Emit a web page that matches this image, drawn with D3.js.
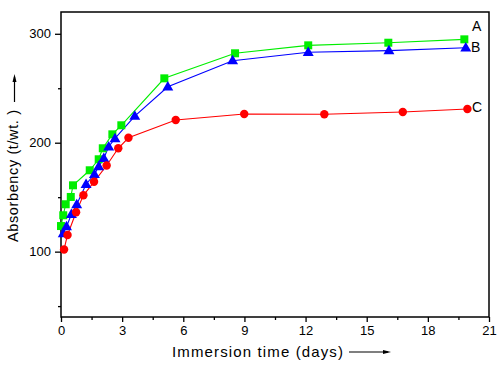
<!DOCTYPE html>
<html><head><meta charset="utf-8">
<script src="https://cdn.jsdelivr.net/npm/d3@7"></script>
<style>body{margin:0;background:#fff}svg{display:block}text{font-family:"Liberation Sans",Arial,sans-serif}</style>
</head><body><svg id="c" width="502" height="365"></svg>
<script>
const seriesNames = ["A", "B", "C"];
const seriesColors = ["#00ee00", "#0000ff", "#ff0000"];
const xA = [0, 0.11, 0.23, 0.48, 0.59, 1.41, 1.85, 2.05, 2.52, 2.96, 5.07, 8.54, 12.13, 16.06, 19.79];
const yA = [123.5, 133.4, 143.5, 150.2, 160.9, 174.7, 184.8, 194.9, 207.7, 216, 259.1, 282.1, 289.4, 291.8, 294.9];
const xB = [0.11, 0.27, 0.51, 0.77, 1.23, 1.64, 1.85, 2.10, 2.34, 2.65, 3.62, 5.24, 8.42, 12.13, 16.09, 19.86];
const yB = [116.6, 122.9, 134.3, 143.3, 161.9, 171, 178, 185.7, 196.3, 203.9, 224.5, 251.4, 275.3, 283, 284.5, 287.2];
const xC = [0.15, 0.32, 0.74, 1.10, 1.62, 2.24, 2.81, 3.31, 5.63, 8.99, 12.92, 16.77, 19.94];
const yC = [102, 115.3, 136.1, 151.7, 164.1, 179.1, 194.9, 204.5, 220.9, 226.4, 226.1, 228.2, 231];
const xTicks = [0, 3, 6, 9, 12, 15, 18, 21];
const yTicks = [100, 200, 300];
const xLabel = "Immersion time (days)";
const yLabel = "Absorbency (t/wt. )";

const svg = d3.select("#c");
const L = 61, R = 489, T = 12, B = 317;
const x = d3.scaleLinear().domain([0, 21]).range([L, R]);
const y = d3.scaleLinear().domain([40, 320]).range([B, T]);

// frame
svg.append("rect").attr("x", L).attr("y", T).attr("width", R - L).attr("height", B - T)
  .attr("fill", "none").attr("stroke", "#000").attr("stroke-width", 1.5);

// x axis
svg.append("g").attr("transform", `translate(0,${B})`)
  .call(d3.axisBottom(x).tickValues(xTicks).tickSize(5).tickPadding(4).tickFormat(d3.format("d")));
svg.append("g").attr("transform", `translate(0,${B})`)
  .call(d3.axisBottom(x).tickValues(d3.range(1.5, 21, 3)).tickSize(3).tickFormat(""));
// y axis
svg.append("g").attr("transform", `translate(${L},0)`)
  .call(d3.axisLeft(y).tickValues(yTicks).tickSize(6).tickPadding(4).tickFormat(d3.format("d")));
svg.append("g").attr("transform", `translate(${L},0)`)
  .call(d3.axisLeft(y).tickValues([50, 150, 250]).tickSize(3).tickFormat(""));
svg.selectAll(".domain").remove();
svg.selectAll(".tick line").attr("stroke", "#000").attr("stroke-width", 1.3);
svg.selectAll(".tick text").attr("font-size", 13).attr("fill", "#000")
  .attr("font-family", "'Liberation Sans', Arial, sans-serif");

// series
const data = [
  xA.map((v, i) => [v, yA[i]]),
  xB.map((v, i) => [v, yB[i]]),
  xC.map((v, i) => [v, yC[i]])
];
const line = d3.line().x(d => x(d[0])).y(d => y(d[1]));
data.forEach((s, k) => {
  svg.append("path").datum(s).attr("d", line).attr("fill", "none")
    .attr("stroke", seriesColors[k]).attr("stroke-width", 1.1);
});
const sym = [d3.symbolSquare, d3.symbolTriangle, d3.symbolCircle];
const sizes = [64, 52, 56];
data.forEach((s, k) => {
  svg.append("g").selectAll("path").data(s).join("path")
    .attr("d", d3.symbol().type(sym[k]).size(sizes[k]))
    .attr("transform", d => `translate(${x(d[0])},${y(d[1]) + (k === 1 ? 0.5 : 0)})`)
    .attr("fill", seriesColors[k]);
});

// series labels
const labelPos = [[472, 27], [471, 48], [472, 108]];
seriesNames.forEach((n, k) => {
  svg.append("text").attr("x", labelPos[k][0]).attr("y", labelPos[k][1])
    .attr("dominant-baseline", "middle").attr("font-size", 14).attr("fill", "#000").text(n);
});

// x title with arrow
svg.append("text").attr("x", 172).attr("y", 357).attr("font-size", 15)
  .attr("textLength", 171).attr("lengthAdjust", "spacing").attr("fill", "#000").text(xLabel);
svg.append("line").attr("x1", 349).attr("x2", 388).attr("y1", 352).attr("y2", 352).attr("stroke", "#000").attr("stroke-width", 1.2);
svg.append("path").attr("d", "M383,350 L391,352 L383,354 Z").attr("fill", "#000");

// y title with arrow
svg.append("text").attr("transform", "translate(18,242) rotate(-90)").attr("font-size", 14.5)
  .attr("textLength", 132).attr("lengthAdjust", "spacing").attr("fill", "#000").text(yLabel);
svg.append("line").attr("x1", 14.5).attr("x2", 14.5).attr("y1", 102).attr("y2", 77).attr("stroke", "#000").attr("stroke-width", 1.2);
svg.append("path").attr("d", "M12.5,82 L14.5,74 L16.5,82 Z").attr("fill", "#000");
</script></body></html>
